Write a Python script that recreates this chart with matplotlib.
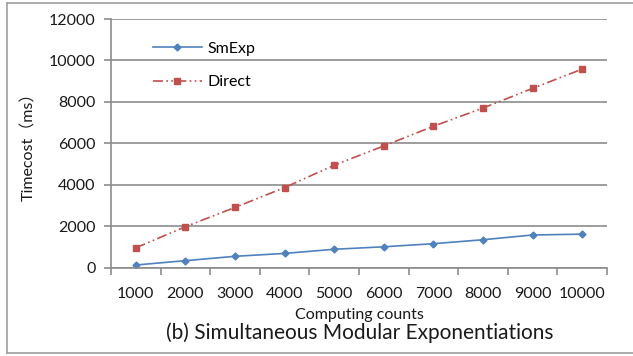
import matplotlib
matplotlib.use("Agg")
import matplotlib.pyplot as plt
from matplotlib.lines import Line2D

plt.rcParams['font.family'] = ['Lato', 'Noto Sans CJK SC', 'DejaVu Sans']

categories = ["1000", "2000", "3000", "4000", "5000", "6000", "7000", "8000", "9000", "10000"]
smexp = [120, 330, 540, 680, 880, 1000, 1150, 1340, 1570, 1610]
direct = [950, 1970, 2900, 3860, 4940, 5870, 6820, 7700, 8650, 9580]
yticks = [0, 2000, 4000, 6000, 8000, 10000, 12000]

W, H = 633, 356
fig = plt.figure(figsize=(W / 100, H / 100), dpi=100)
ax = fig.add_axes([111 / W, 1 - 267.5 / H, (607 - 111) / W, (267.5 - 19) / H])

grid_c = '#8c8c8c'
x = list(range(len(categories)))
ax.plot(x, smexp, color='#4F81BD', lw=1.2, marker='D', ms=3.5, mec='#4F81BD', label='SmExp')
ax.plot(x, direct, color='#C0504D', lw=1.2, ls=(0, (6, 2, 1, 2, 1, 2)), marker='s', ms=5,
        mec='#C0504D', label='Direct')

ax.set_xlim(-0.5, len(categories) - 0.5)
ax.set_ylim(0, 12000)
ax.set_yticks(yticks)
ax.set_yticklabels([str(v) for v in yticks])
ax.set_xticks(x)
ax.set_xticklabels(categories)
ax.set_xticks([i - 0.5 for i in range(len(categories) + 1)], minor=True)
ax.tick_params(axis='x', which='major', length=0, pad=14, labelsize=11.5, colors='#1a1a1a')
ax.tick_params(axis='x', which='minor', length=5, width=1.2, color=grid_c)
ax.tick_params(axis='y', length=5, width=1.2, color=grid_c, pad=6, labelsize=11.5, labelcolor='#1a1a1a')
ax.grid(axis='y', color=grid_c, lw=1.2)
ax.set_axisbelow(True)
for s in ['top', 'right']:
    ax.spines[s].set_visible(False)
for s in ['left', 'bottom']:
    ax.spines[s].set_color(grid_c)
    ax.spines[s].set_linewidth(1.2)

ax.set_xlabel('Computing counts', fontsize=11.5, labelpad=5, color='#1a1a1a')
ax.set_ylabel('Timecost（ms）', fontsize=11.5, labelpad=9, color='#1a1a1a')
fig.text(360 / W, 1 - 333 / H, '(b) Simultaneous Modular Exponentiations', fontsize=15,
         ha='center', va='center', color='#1a1a1a')

leg = ax.legend(loc='upper left', bbox_to_anchor=((153 - 111) / 496, 0.908), frameon=False,
                borderpad=0, borderaxespad=0, handlelength=3.05, handletextpad=0.35,
                fontsize=11.5, labelspacing=1.2)

# figure border (left, top, bottom; right edge cut off)
bc = '#a0a0a0'
fig.add_artist(Line2D([7 / W, 7 / W], [1 - 2.5 / H, 1 - 352.5 / H], color=bc, lw=1.2))
fig.add_artist(Line2D([7 / W, 1], [1 - 2.5 / H, 1 - 2.5 / H], color=bc, lw=1.2))
fig.add_artist(Line2D([7 / W, 1], [1 - 352.5 / H, 1 - 352.5 / H], color=bc, lw=1.2))

fig.savefig('out.png', dpi=100)
